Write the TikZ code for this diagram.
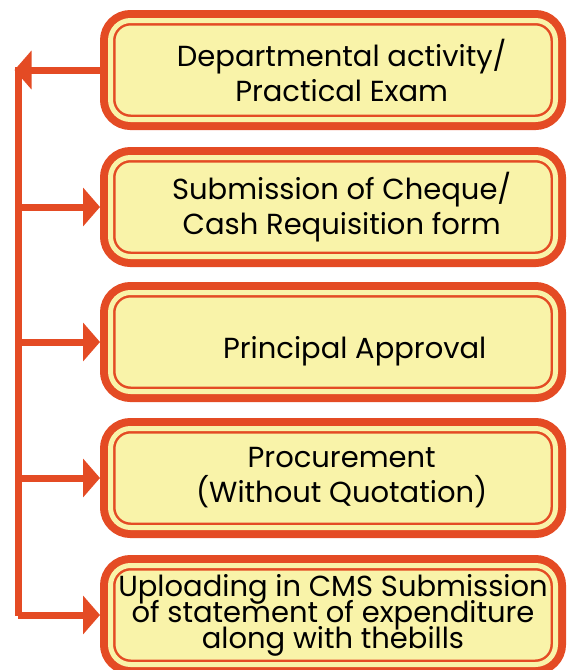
\documentclass[tikz,border=0pt]{standalone}
\usepackage{fontspec}
\setmainfont{Poppins}
\usetikzlibrary{arrows.meta}
\definecolor{flowred}{HTML}{E44B24}
\definecolor{flowyellow}{HTML}{F9F3A9}
\newcommand{\stagefont}[1]{\fontsize{29}{#1}\selectfont\lineskiplimit=-50pt\relax}
\tikzset{
    stagebox/.style={rounded corners=20pt, fill=flowyellow, draw=flowred,
        line width=2.5pt, double=flowyellow, double distance=5pt,
        preaction={draw=flowred, line width=21pt},
        minimum width=445pt, minimum height=99pt, inner sep=0pt, outer sep=10.5pt,
        align=center, font=\stagefont{35}},
    flowarrow/.style={draw=flowred, line width=7pt, -{Triangle[length=17pt, width=38pt]}}
}

\begin{document}
\begin{tikzpicture}[x=1pt, y=-1pt]
        \useasboundingbox (0,0) rectangle (566,670);

        \coordinate (railtop) at (18,66.5);
        \coordinate (railbot) at (18,615.5);
        \coordinate (railedge) at (14.5,70);

        \draw[flowred, line width=7pt] (railtop) -- (railbot);

        \node[stagebox] (b1) at (333,70) {\hspace*{0.6em}Departmental activity/\\\hspace*{0.6em}Practical Exam};
        \node[stagebox] (b2) at (333,207) {\hspace*{0.6em}Submission of Cheque/\\\hspace*{0.6em}Cash Requisition form};
        \node[stagebox] (b3) at (333,342) {\hspace*{1.5em}\raisebox{-9pt}[\height][\depth]{Principal Approval}};
        \node[stagebox] (b4) at (333,478) {\hspace*{0.6em}Procurement\\\hspace*{0.6em}(Without Quotation)};
        \node[stagebox, font=\stagefont{26}] (b5) at (333,615)
            {Uploading in CMS Submission\\of statement of expenditure\\along with thebills};

        \draw[flowarrow] (b1.west) -- (b1.west -| railedge);
        \foreach \i in {2,3,4,5}
            \draw[flowarrow] (b\i.west -| railtop) -- (b\i.west);
    \end{tikzpicture}
\end{document}
